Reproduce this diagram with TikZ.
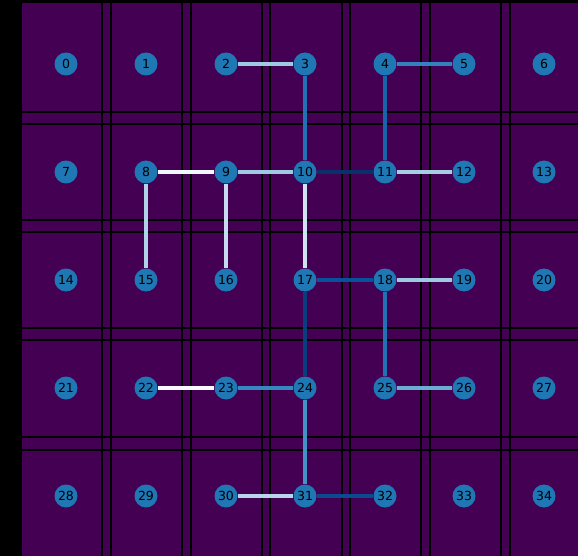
\documentclass[tikz,border=0pt]{standalone}
\usepackage{fontspec}
\setmainfont{DejaVu Sans}
\usetikzlibrary{positioning}

\definecolor{cellpurple}{RGB}{68,1,84}
\definecolor{nodeblue}{RGB}{31,119,180}
\definecolor{ea}{RGB}{158,202,225}
\definecolor{eb}{RGB}{33,113,181}
\definecolor{ec}{RGB}{49,130,189}
\definecolor{ed}{RGB}{23,100,171}
\definecolor{ee}{RGB}{240,246,252}
\definecolor{ef}{RGB}{8,48,107}
\definecolor{eg}{RGB}{166,206,227}
\definecolor{eh}{RGB}{176,210,232}
\definecolor{ei}{RGB}{198,219,239}
\definecolor{ej}{RGB}{208,225,242}
\definecolor{ek}{RGB}{8,81,156}
\definecolor{el}{RGB}{8,61,127}
\definecolor{em}{RGB}{247,251,255}
\definecolor{en}{RGB}{55,135,192}
\definecolor{eo}{RGB}{106,174,214}
\definecolor{ep}{RGB}{66,146,198}
\definecolor{eq}{RGB}{183,212,234}
\definecolor{er}{RGB}{10,74,144}

\begin{document}
\begin{tikzpicture}[
x=1pt, y=-1pt,
cell/.style={draw=black, line width=1.3pt},
vtx/.style={circle, fill=nodeblue, inner sep=0pt, minimum size=23pt, font=\fontsize{12.5}{12.5}\selectfont, text=black},
lnk/.style={line width=4.3pt}
]
\useasboundingbox (0,0) rectangle (578,556);
\fill[black] (0,0) rectangle (578,556);
\fill[cellpurple] (21,3) rectangle (578,556);
% cell borders
\foreach \gx in {21,102,111,182,191,262,270,342,350,421,430,501,510}
  \draw[cell] (\gx,3) -- (\gx,556);
\foreach \gy in {112,124,220,232,328,340,437,450}
  \draw[cell] (21,\gy) -- (578,\gy);
% grid nodes
\foreach \cx [count=\ci from 0] in {66,146,226,305,385,464,544}
  \foreach \cy [count=\cj from 0] in {64,172,280,388,496}
    \pgfmathtruncatemacro{\nid}{\cj*7+\ci}
    \node[vtx] (n\nid) at (\cx,\cy) {\nid};
% spanning edges
\draw[lnk, ea] (n2) -- (n3);
\draw[lnk, eb] (n3) -- (n10);
\draw[lnk, ec] (n4) -- (n5);
\draw[lnk, ed] (n4) -- (n11);
\draw[lnk, ee] (n8) -- (n9);
\draw[lnk, ea] (n9) -- (n10);
\draw[lnk, ef] (n10) -- (n11);
\draw[lnk, eg] (n11) -- (n12);
\draw[lnk, eh] (n8) -- (n15);
\draw[lnk, ei] (n9) -- (n16);
\draw[lnk, ej] (n10) -- (n17);
\draw[lnk, ek] (n17) -- (n18);
\draw[lnk, ea] (n18) -- (n19);
\draw[lnk, eb] (n18) -- (n25);
\draw[lnk, el] (n17) -- (n24);
\draw[lnk, em] (n22) -- (n23);
\draw[lnk, en] (n23) -- (n24);
\draw[lnk, eo] (n25) -- (n26);
\draw[lnk, ep] (n24) -- (n31);
\draw[lnk, eq] (n30) -- (n31);
\draw[lnk, er] (n31) -- (n32);
\end{tikzpicture}
\end{document}
